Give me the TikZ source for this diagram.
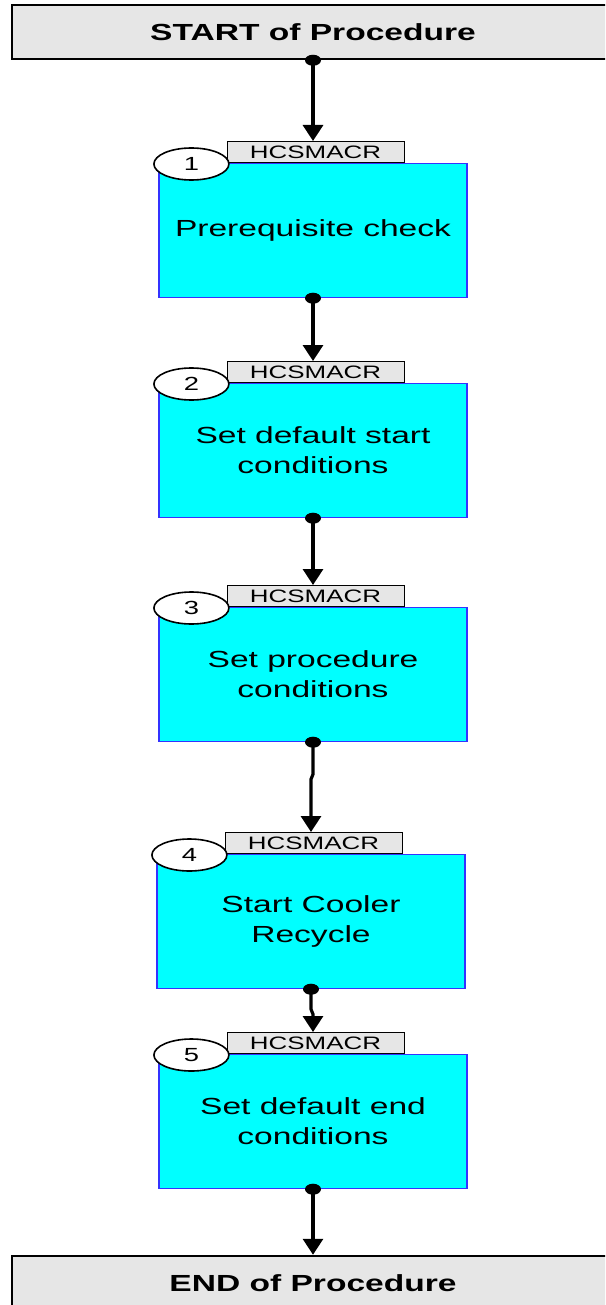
\documentclass[tikz,border=0pt]{standalone}
\usepackage{fontspec}
\setmainfont{Liberation Sans}[FakeStretch=1.44]
\usetikzlibrary{arrows.meta,shapes.geometric}

\definecolor{stepfill}{RGB}{0,255,255}
\definecolor{stepline}{RGB}{51,51,255}
\definecolor{tabfill}{RGB}{230,230,230}

\tikzset{
  endbox/.style={draw=black, line width=2.5pt, fill=tabfill, minimum width=602pt, minimum height=54pt, font=\fontsize{23.3}{28}\selectfont\bfseries},
  stepbox/.style={draw=stepline, line width=1.2pt, fill=stepfill, anchor=north, minimum width=308pt, minimum height=134pt, align=center, font=\fontsize{23.3}{30}\selectfont},
  tagbox/.style={draw=black, line width=1pt, fill=tabfill, anchor=south, minimum width=177pt, minimum height=21pt, inner sep=0pt, font=\fontsize{18}{18}\selectfont},
  num/.style={ellipse, draw=black, line width=1.6pt, fill=white, minimum width=75pt, minimum height=32pt, inner sep=0pt, font=\fontsize{19}{19}\selectfont},
  flow/.style={line width=3.2pt, line join=round, -{Triangle[width=20pt,length=16pt]}}
}

\begin{document}
\begin{tikzpicture}[x=1pt,y=-1pt]
    \useasboundingbox (0,0) rectangle (605,1305);
    \clip (0,0) rectangle (605,1305);
    \node[endbox] (start) at (313,32) {START of Procedure};
    \node[endbox] (stop) at (313,1283) {END of Procedure};
    % the five steps
    \foreach \i/\dx/\y/\txt in {1/0/163/{Prerequisite check}, 2/0/383/{Set default start\\conditions}, 3/0/607/{Set procedure\\conditions}, 4/-2/854/{Start Cooler\\Recycle}, 5/0/1054/{Set default end\\conditions}} {
    \node[stepbox] (b\i) at (313+\dx,\y) {\txt};
    \node[tagbox, xshift=2.5pt] (t\i) at (b\i.north) {HCSMACR};
    \node[num] (n\i) at ([xshift=33pt, yshift=-1pt]b\i.north west) {\i};
    }
    % connectors
    \draw[flow] (start.south) -- (start.south |- t1.north);
    \draw[flow] (b1.south) -- (b1.south |- t2.north);
    \draw[flow] (b2.south) -- (b2.south |- t3.north);
    \draw[flow] (b3.south) -- ++(0,32) -- ++(-2,5) -- (b4.south |- t4.north);
    \draw[flow] (b4.south) -- ++(0,20) -- ++(2,5) -- (b5.south |- t5.north);
    \draw[flow] (b5.south) -- (b5.south |- stop.north);
    \foreach \n in {start,b1,b2,b3,b4,b5}
    \fill (\n.south) ellipse [x radius=8, y radius=5.5];
\end{tikzpicture}
\end{document}
